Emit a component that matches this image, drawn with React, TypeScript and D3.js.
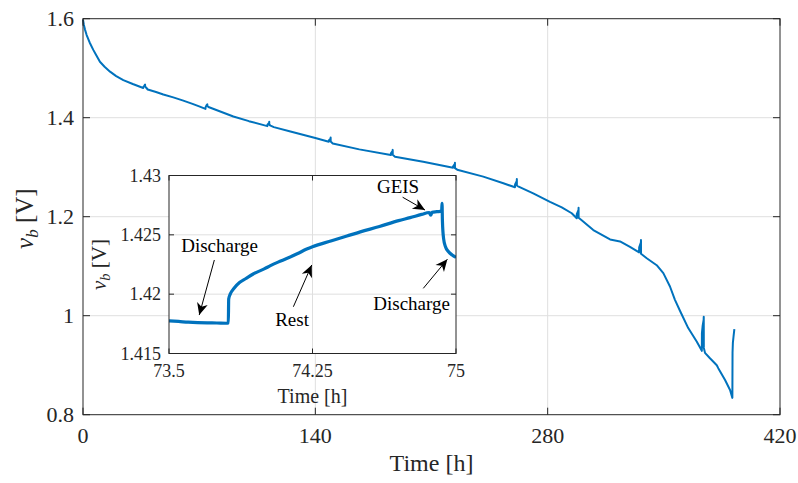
import React from "react";
import * as d3 from "d3";

// ---------- data ----------
const mainT = [
  0, 0.5, 1.2, 2.2, 4, 6.2, 8, 10.2, 13, 16.3, 20, 24.3, 30, 36.3,
  36.35, 37.0, 37.4, 37.45, 38, 39, 44, 48.4, 54.4, 60, 66, 70, 73.8,
  73.85, 74.4, 74.9, 74.93, 74.96, 76, 90.6, 100, 111.1,
  111.15, 112.2, 112.22, 112.25, 113, 115, 125, 140, 148.1,
  148.15, 149.2, 149.22, 149.25, 150.5, 166.5, 185.5,
  185.55, 186.6, 186.62, 186.65, 188, 205, 223,
  223.05, 224.1, 224.12, 224.15, 225.5, 241.2, 253.3, 260.3,
  260.35, 261.4, 261.42, 261.45, 262.5, 271.3, 281.4, 288.5, 294.5, 297.5,
  297.55, 298.6, 298.62, 298.65, 300.5, 307.5, 317.6, 323.6, 329.6, 335.1,
  335.15, 336.2, 336.22, 336.25, 339.7, 345.7, 349.7, 353.7, 356.7, 360, 364.7, 369.8, 372.9,
  372.95, 373.4, 374.0, 374.05, 374.1, 374.8, 377.8, 381.9, 382.8, 386.9, 389.9, 391.3,
  391.4, 391.6, 392.0, 392.5,
];
const mainV = [
  1.598, 1.588, 1.578, 1.567, 1.552, 1.537, 1.526, 1.513, 1.503, 1.493, 1.484, 1.476, 1.468, 1.460,
  1.462, 1.465, 1.467, 1.463, 1.461, 1.457, 1.452, 1.447, 1.441, 1.435, 1.428, 1.4228, 1.4177,
  1.421, 1.425, 1.4272, 1.4248, 1.4232, 1.421, 1.4025, 1.393, 1.383,
  1.386, 1.390, 1.392, 1.386, 1.384, 1.381, 1.372, 1.359, 1.3515,
  1.354, 1.358, 1.360, 1.352, 1.348, 1.336, 1.3246,
  1.328, 1.333, 1.335, 1.325, 1.321, 1.311, 1.299,
  1.302, 1.307, 1.309, 1.298, 1.295, 1.281, 1.2675, 1.2594,
  1.265, 1.272, 1.276, 1.263, 1.2606, 1.247, 1.230, 1.219, 1.207, 1.197,
  1.205, 1.214, 1.218, 1.198, 1.193, 1.173, 1.154, 1.150, 1.139, 1.128,
  1.138, 1.148, 1.153, 1.125, 1.116, 1.102, 1.086, 1.059, 1.032, 1.008, 0.975, 0.948, 0.929,
  0.965, 0.980, 0.992, 0.998, 0.935, 0.925, 0.914, 0.900, 0.894, 0.870, 0.850, 0.834,
  0.925, 0.945, 0.958, 0.973,
];

const insetT = [
  73.5, 73.55, 73.6, 73.65, 73.7, 73.75, 73.8, 73.81,
  73.812, 73.82, 73.84, 73.87, 73.9, 73.94, 74.0, 74.03, 74.07, 74.115, 74.17, 74.22, 74.25,
  74.35, 74.43, 74.5, 74.6, 74.7, 74.76, 74.82, 74.86, 74.868, 74.875, 74.9, 74.925,
  74.927, 74.929, 74.935, 74.945, 74.96, 74.98, 75.0,
];
const insetV = [
  1.41775, 1.41770, 1.41764, 1.41760, 1.41758, 1.41757, 1.41755, 1.41757,
  1.4196, 1.4200, 1.4205, 1.4210, 1.4213, 1.4217, 1.42215, 1.4224, 1.4227, 1.4230, 1.4234, 1.4238, 1.4240,
  1.4245, 1.4249, 1.42525, 1.4257, 1.4262, 1.42645, 1.42672, 1.42688, 1.42665, 1.42690, 1.42695, 1.4270,
  1.42766, 1.4262, 1.4247, 1.4240, 1.4236, 1.4233, 1.4231,
];

const mainXTicks = [0, 140, 280, 420];
const mainYTicks = [0.8, 1, 1.2, 1.4, 1.6];
const insetXTicks = [73.5, 74.25, 75];
const insetYTicks = [1.415, 1.42, 1.425, 1.43];
const insetXTickLabels = ["73.5", "74.25", "75"];
const insetYTickLabels = ["1.415", "1.42", "1.425", "1.43"];

// annotation labels and their anchor points in inset data coordinates
const annoLabels = ["Discharge", "Rest", "GEIS", "Discharge"];
const annoTextT = [73.764, 74.143, 74.697, 74.768];
const annoTextV = [1.42358, 1.41734, 1.42855, 1.41867];
const annoFromT = [73.737, 74.15, 74.721, 74.829];
const annoFromV = [1.42288, 1.41894, 1.42817, 1.42049];
const annoToT = [73.658, 74.246, 74.838, 74.955];
const annoToV = [1.41824, 1.42246, 1.42709, 1.42294];

// ---------- styles ----------
const FONT = '"Liberation Serif", "DejaVu Serif", serif';
const AX = "#262626";
const GRID = "#dfdfdf";
const BLUE = "#0072BD";

const T = (props: any) => (
  <text {...props} style={{ fontFamily: FONT, ...(props.style || {}) }} />
);

export default function App() {
  const W = 798, H = 483;
  const m = { l: 83, r: 780, t: 18.7, b: 414.7 };
  const ins = { l: 169, r: 456, t: 175.5, b: 353.5 };

  const x = d3.scaleLinear().domain([0, 420]).range([m.l, m.r]);
  const y = d3.scaleLinear().domain([0.8, 1.6]).range([m.b, m.t]);
  const xi = d3.scaleLinear().domain([73.5, 75]).range([ins.l, ins.r]);
  const yi = d3.scaleLinear().domain([1.415, 1.43]).range([ins.b, ins.t]);

  const mainPts: [number, number][] = mainT.map((t, i) => [t, mainV[i]]);
  const insetPts: [number, number][] = insetT.map((t, i) => [t, insetV[i]]);
  const mainLine = d3.line<[number, number]>().x((d) => x(d[0])).y((d) => y(d[1]));
  const insetLine = d3
    .line<[number, number]>()
    .x((d) => xi(d[0]))
    .y((d) => yi(d[1]))
    .curve(d3.curveMonotoneX);

  const tlM = 7;
  const tlI = 5;

  const arrowHead = (x1: number, y1: number, x2: number, y2: number) => {
    const ang = (Math.atan2(y2 - y1, x2 - x1) * 180) / Math.PI;
    return (
      <path
        d="M0,0 L-12,-5.5 L-8.5,0 L-12,5.5 Z"
        fill="#000"
        transform={`translate(${x2},${y2}) rotate(${ang})`}
      />
    );
  };

  return (
    <svg
      width={W}
      height={H}
      style={{ position: "absolute", left: 0, top: 0, background: "#fff", fontFamily: FONT }}
    >
      <rect x={0} y={0} width={W} height={H} fill="#fff" />
      {/* main grid */}
      {mainXTicks.slice(1, -1).map((t) => (
        <line key={"gx" + t} x1={x(t)} x2={x(t)} y1={m.t} y2={m.b} stroke={GRID} strokeWidth={1} />
      ))}
      {mainYTicks.slice(1, -1).map((v) => (
        <line key={"gy" + v} x1={m.l} x2={m.r} y1={y(v)} y2={y(v)} stroke={GRID} strokeWidth={1} />
      ))}
      {/* main line */}
      <path d={mainLine(mainPts) || ""} fill="none" stroke={BLUE} strokeWidth={2} strokeLinejoin="round" />
      {/* main box */}
      <rect x={m.l} y={m.t} width={m.r - m.l} height={m.b - m.t} fill="none" stroke={AX} strokeWidth={1} />
      {mainXTicks.map((t) => (
        <g key={"xt" + t}>
          <line x1={x(t)} x2={x(t)} y1={m.b} y2={m.b - tlM} stroke={AX} />
          <line x1={x(t)} x2={x(t)} y1={m.t} y2={m.t + tlM} stroke={AX} />
          <T x={x(t)} y={443} textAnchor="middle" fontSize={22} fill={AX}>
            {t}
          </T>
        </g>
      ))}
      {mainYTicks.map((v) => (
        <g key={"yt" + v}>
          <line x1={m.l} x2={m.l + tlM} y1={y(v)} y2={y(v)} stroke={AX} />
          <line x1={m.r} x2={m.r - tlM} y1={y(v)} y2={y(v)} stroke={AX} />
          <T x={74} y={y(v) + 7.3} textAnchor="end" fontSize={22} fill={AX}>
            {String(v)}
          </T>
        </g>
      ))}
      <T x={(m.l + m.r) / 2} y={471} textAnchor="middle" fontSize={24} fill={AX}>
        Time [h]
      </T>
      <T transform={`translate(33,${(m.t + m.b) / 2 + 2}) rotate(-90)`} textAnchor="middle" fontSize={25} fill={AX}>
        <tspan fontStyle="italic">v</tspan>
        <tspan fontStyle="italic" fontSize={17} dy={5}>b</tspan>
        <tspan dy={-5}> [V]</tspan>
      </T>

      {/* inset */}
      <rect x={ins.l} y={ins.t} width={ins.r - ins.l} height={ins.b - ins.t} fill="#fff" />
      {insetXTicks.slice(1, -1).map((t) => (
        <line key={"igx" + t} x1={xi(t)} x2={xi(t)} y1={ins.t} y2={ins.b} stroke={GRID} />
      ))}
      {insetYTicks.slice(1, -1).map((v) => (
        <line key={"igy" + v} x1={ins.l} x2={ins.r} y1={yi(v)} y2={yi(v)} stroke={GRID} />
      ))}
      <defs>
        <clipPath id="insclip">
          <rect x={ins.l} y={ins.t} width={ins.r - ins.l} height={ins.b - ins.t} />
        </clipPath>
      </defs>
      <path
        d={insetLine(insetPts) || ""}
        fill="none"
        stroke={BLUE}
        strokeWidth={3.2}
        strokeLinejoin="round"
        clipPath="url(#insclip)"
      />
      <rect x={ins.l} y={ins.t} width={ins.r - ins.l} height={ins.b - ins.t} fill="none" stroke={AX} strokeWidth={1} />
      {insetXTicks.map((t, i) => (
        <g key={"ixt" + t}>
          <line x1={xi(t)} x2={xi(t)} y1={ins.b} y2={ins.b - tlI} stroke={AX} />
          <line x1={xi(t)} x2={xi(t)} y1={ins.t} y2={ins.t + tlI} stroke={AX} />
          <T x={xi(t)} y={377.3} textAnchor="middle" fontSize={18} fill={AX}>
            {insetXTickLabels[i]}
          </T>
        </g>
      ))}
      {insetYTicks.map((v, i) => (
        <g key={"iyt" + v}>
          <line x1={ins.l} x2={ins.l + tlI} y1={yi(v)} y2={yi(v)} stroke={AX} />
          <line x1={ins.r} x2={ins.r - tlI} y1={yi(v)} y2={yi(v)} stroke={AX} />
          <T x={161} y={yi(v) + 6} textAnchor="end" fontSize={18} fill={AX}>
            {insetYTickLabels[i]}
          </T>
        </g>
      ))}
      <T x={(ins.l + ins.r) / 2} y={403} textAnchor="middle" fontSize={20} fill={AX}>
        Time [h]
      </T>
      <T transform={`translate(106,${(ins.t + ins.b) / 2}) rotate(-90)`} textAnchor="middle" fontSize={21} fill={AX}>
        <tspan fontStyle="italic">v</tspan>
        <tspan fontStyle="italic" fontSize={14.5} dy={4}>b</tspan>
        <tspan dy={-4}> [V]</tspan>
      </T>

      {/* annotations */}
      {annoLabels.map((lab, i) => {
        const x1 = xi(annoFromT[i]), y1 = yi(annoFromV[i]);
        const x2 = xi(annoToT[i]), y2 = yi(annoToV[i]);
        return (
          <g key={"an" + i}>
            <T x={xi(annoTextT[i])} y={yi(annoTextV[i])} textAnchor="middle" fontSize={19} fill="#000">
              {lab}
            </T>
            <line x1={x1} y1={y1} x2={x2} y2={y2} stroke="#000" strokeWidth={1} />
            {arrowHead(x1, y1, x2, y2)}
          </g>
        );
      })}
    </svg>
  );
}
